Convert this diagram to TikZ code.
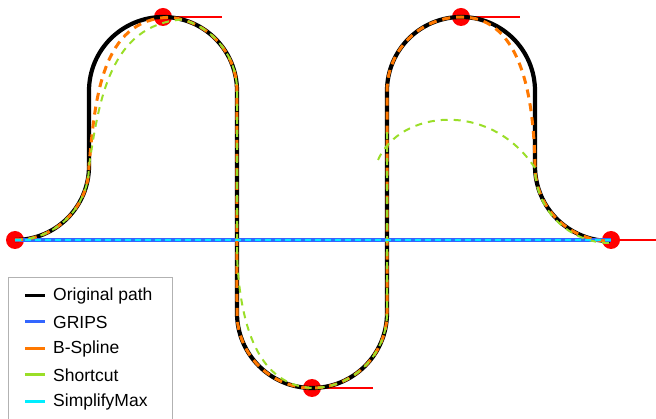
\documentclass[tikz,border=0pt]{standalone}
\usepackage{fontspec}
\setmainfont{Liberation Sans}
\begin{document}
\begin{tikzpicture}[x=1pt,y=-1pt,
  orig/.style={line width=4.2pt,black},
  grips/.style={line width=4pt,color=gripsblue},
  bspl/.style={line width=3pt,color=bsorange,dash pattern=on 8pt off 6pt},
  shortc/.style={line width=2pt,color=scgreen,dash pattern=on 7pt off 6pt},
  smax/.style={line width=2pt,color=smcyan,dash pattern=on 6pt off 4pt},
  pose/.style={circle,fill=red,inner sep=0pt,minimum size=18pt},
  heading/.style={line width=1.8pt,red},
  legtext/.style={anchor=west,inner sep=0pt,font=\fontsize{17.5}{20}\selectfont}]
\definecolor{gripsblue}{RGB}{51,102,255}
\definecolor{bsorange}{RGB}{255,120,0}
\definecolor{scgreen}{RGB}{154,222,40}
\definecolor{smcyan}{RGB}{0,238,255}
\useasboundingbox (0,0) rectangle (656,419);
% poses
\node[pose] (p0) at (15,240) {};
\node[pose] (p1) at (163,17) {};
\node[pose] (p2) at (312,388) {};
\node[pose] (p3) at (461,17) {};
\node[pose] (p4) at (611,240) {};
\coordinate (h0) at (74,240);
\coordinate (h1) at (222,17);
\coordinate (h2) at (373,388);
\coordinate (h3) at (520,17);
\coordinate (h4) at (670,240);
\foreach \i in {0,...,4} \draw[heading] (p\i.center) -- (h\i);
% original path
\draw[orig] (p0.center) arc[start angle=90,end angle=0,radius=74]
  -- (89,91) arc[start angle=180,end angle=360,radius=74]
  -- (237,313) arc[start angle=180,end angle=0,radius=75]
  -- (387,91) arc[start angle=180,end angle=360,radius=74]
  -- (535,166) arc[start angle=180,end angle=90,radius=75];
% GRIPS
\draw[grips] (p0.center) -- (p4.center);
% B-Spline
\draw[bspl] (p0.center) arc[start angle=90,end angle=0,radius=74]
  .. controls (95,100) and (101,19) .. (169.4,17.3)
  arc[start angle=275,end angle=360,radius=74]
  -- (237,313) arc[start angle=180,end angle=0,radius=75]
  -- (387,91) arc[start angle=180,end angle=270,radius=74]
  .. controls (500,17) and (533,50) .. (535,166)
  arc[start angle=180,end angle=90,radius=75];
% Shortcut
\draw[shortc] (p0.center) arc[start angle=90,end angle=0,radius=74]
  .. controls (99,100) and (110,25) .. (182.2,19.5)
  arc[start angle=285,end angle=360,radius=74]
  -- (237,255) .. controls (240,330) and (260,385) .. (312,388)
  arc[start angle=90,end angle=0,radius=75]
  -- (387,127);
\draw[shortc] (378,160) .. controls (400,110) and (490,100) .. (535,168)
  arc[start angle=180,end angle=90,radius=75];
% SimplifyMax
\draw[smax] (p0.center) -- (p4.center);
% legend
\draw[draw=black!30,fill=white,line width=0.8pt] (8,277) rectangle (172,425);
\foreach \y/\st/\t [count=\k] in {296/orig/Original path,322/grips/GRIPS,349/bspl/B-Spline,375/shortc/Shortcut,402/smax/SimplifyMax}{
  \coordinate (la\k) at (25,\y);
  \coordinate (lb\k) at (45,\y);
  \draw[\st,line width=3pt,solid] (la\k) -- (lb\k);
  \node[legtext] (lt\k) at (53,\y) {\t};
}
\end{tikzpicture}
\end{document}
